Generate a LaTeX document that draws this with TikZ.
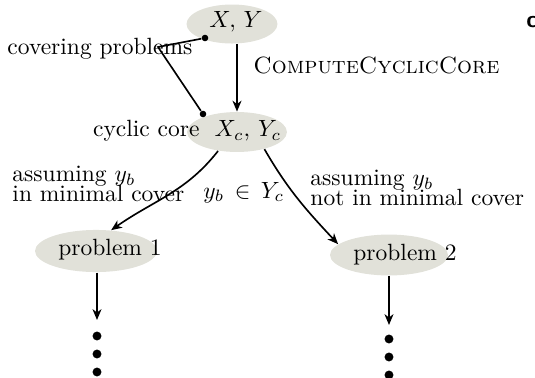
\documentclass[tikz,border=0pt]{standalone}
\usetikzlibrary{shapes.geometric,arrows.meta}
\definecolor{ellfill}{RGB}{225,225,217}
\begin{document}
\begin{tikzpicture}[x=0.4255pt,y=-0.4255pt,
  ell/.style={ellipse,fill=ellfill,inner sep=0pt},
  txt/.style={inner sep=0pt},
  conn/.style={line width=0.7pt},
  arr/.style={conn,-{Stealth[length=4.6pt,width=3.8pt,inset=1.4pt]}},
  bigdot/.style={circle,fill=black,inner sep=0pt,minimum size=3.8pt},
  smalldot/.style={circle,fill=black,inner sep=0pt,minimum size=2.8pt}]
\useasboundingbox (0,0) rectangle (535,377);
\clip (0,0) rectangle (535,377);
% ellipses
\node[ell,minimum width=38.7pt,minimum height=16.6pt] (xy) at (232,24) {};
\node[ell,minimum width=42.5pt,minimum height=17pt] (xc) at (237,132) {};
\node[ell,minimum width=51.9pt,minimum height=17.9pt] (p1) at (96,251) {};
\node[ell,minimum width=50.2pt,minimum height=17.4pt] (p2) at (389,255) {};
% texts in ellipses
\node[txt] (xyt) at (236,22) {$X,\,Y$};
\node[txt] (xct) at (248,131) {$X_c,\,Y_c$};
\node[txt] (p1t) at (110,250) {problem 1};
\node[txt] (p2t) at (405,255) {problem 2};
% labels
\node[txt,anchor=mid west] (cov) at (7,49) {covering problems};
\node[txt,anchor=mid west] (ccc) at (253,68) {\textsc{ComputeCyclicCore}};
\node[txt,anchor=mid east] (cyc) at (200,131) {cyclic core};
\node[txt,anchor=north west,align=left] (lin) at (12,166) {assuming $y_b$\\[-3.6pt]in minimal cover};
\node[txt,anchor=north west,align=left] (lnot) at (310,170) {assuming $y_b$\\[-3.6pt]not in minimal cover};
\node[txt,anchor=mid west] (yb) at (203,193) {$y_b\,\in\,Y_c$};
\node[txt,anchor=mid west] (cc) at (526,22) {\sffamily\bfseries c};
% covering problems / cyclic core pointer
\node[smalldot] (d1) at (205,38) {};
\node[smalldot] (d2) at (203,114) {};
\coordinate (bend) at (158,47);
\draw[conn] (d1) -- (bend) -- (d2);
% main arrows
\draw[arr] (xy.south -| xc.north) -- (xc.north);
\draw[arr] (xc.-135) to[out=-128,in=35] (p1.54);
\draw[arr] (xc.-32) to[out=-60,in=133] (p2.168);
% continuation
\node[bigdot] (a1) at (97,336) {};
\node[bigdot] (a2) at (97,354) {};
\node[bigdot] (a3) at (97,372) {};
\node[bigdot] (b1) at (389,339) {};
\node[bigdot] (b2) at (389,357) {};
\node[bigdot] (b3) at (389,375) {};
\coordinate (p1e) at (97,320);
\coordinate (p2e) at (389,325);
\draw[arr] (p1.south -| p1e) -- (p1e);
\draw[arr] (p2.south -| p2e) -- (p2e);
\end{tikzpicture}
\end{document}
